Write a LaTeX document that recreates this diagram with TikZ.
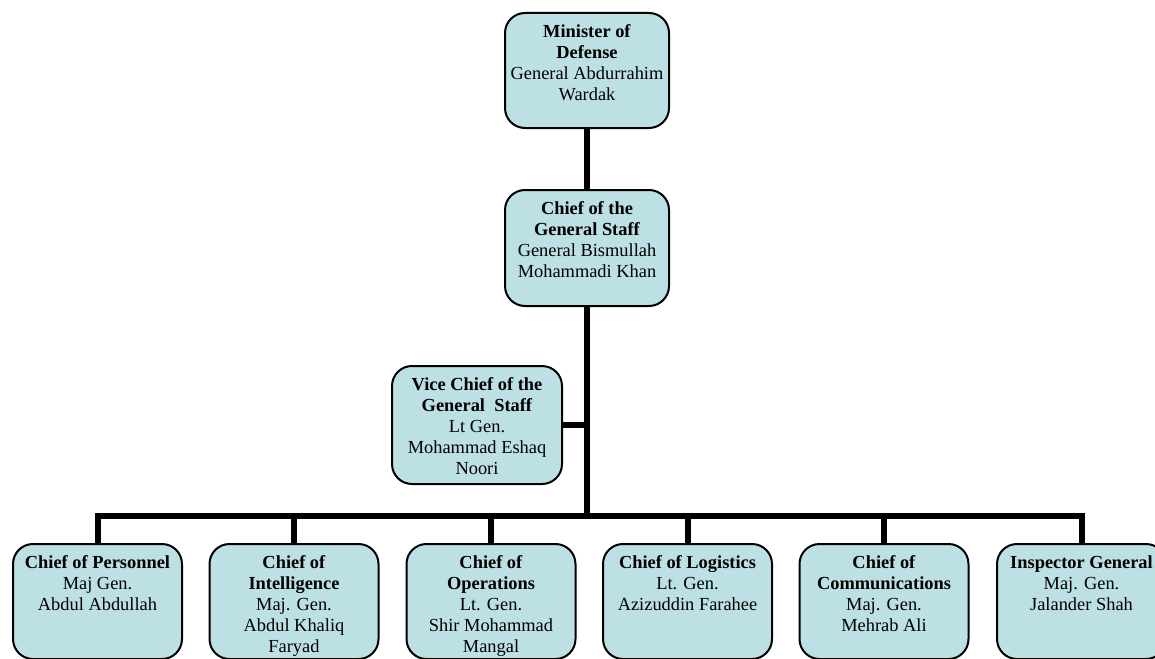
\documentclass[tikz,border=0pt]{standalone}
\usepackage{fontspec}
\setmainfont{Liberation Serif}
\usetikzlibrary{backgrounds}
\definecolor{boxfill}{RGB}{188,224,228}
\newcommand{\orgtext}[3]{\parbox[c][#2][t]{#1}{\centering\fontsize{18.4pt}{21pt}\selectfont\strut #3}}
\begin{document}
\begin{tikzpicture}[x=1pt,y=-1pt,
  orgbox/.style={draw=black, line width=2pt, fill=boxfill, rounded corners=20pt,
    inner sep=0pt, anchor=north},
  link/.style={draw=black, line width=6pt}]
\useasboundingbox (0,0) rectangle (1155,658);
\clip (0,0) rectangle (1155,658);

\node[orgbox, minimum width=164pt, minimum height=115pt] (min) at (587,12)
  {\orgtext{164pt}{95pt}{\textbf{Minister of}\\\textbf{Defense}\\General Abdurrahim\\Wardak}};
\node[orgbox, minimum width=164pt, minimum height=116pt] (cgs) at (587,189)
  {\orgtext{164pt}{96pt}{\textbf{Chief of the}\\\textbf{General Staff}\\General Bismullah\\Mohammadi Khan}};
\node[orgbox, minimum width=170pt, minimum height=118pt] (vice) at (477,365)
  {\orgtext{170pt}{98pt}{\textbf{Vice Chief of the}\\\textbf{General~~Staff}\\Lt Gen.\\Mohammad Eshaq\\Noori}};

\node[orgbox, minimum width=169pt, minimum height=115pt] (p1) at (97.5,543)
  {\orgtext{169pt}{95pt}{\textbf{Chief of Personnel}\\Maj Gen.\\Abdul Abdullah}};
\node[orgbox, minimum width=169pt, minimum height=115pt] (p2) at (294,543)
  {\orgtext{169pt}{95pt}{\textbf{Chief of}\\\textbf{Intelligence}\\Maj. Gen.\\Abdul Khaliq\\Faryad}};
\node[orgbox, minimum width=169pt, minimum height=115pt] (p3) at (491,543)
  {\orgtext{169pt}{95pt}{\textbf{Chief of}\\\textbf{Operations}\\Lt. Gen.\\Shir Mohammad\\Mangal}};
\node[orgbox, minimum width=169pt, minimum height=115pt] (p4) at (687.5,543)
  {\orgtext{169pt}{95pt}{\textbf{Chief of Logistics}\\Lt. Gen.\\Azizuddin Farahee}};
\node[orgbox, minimum width=169pt, minimum height=115pt] (p5) at (884,543)
  {\orgtext{169pt}{95pt}{\textbf{Chief of}\\\textbf{Communications}\\Maj. Gen.\\Mehrab Ali}};
\node[orgbox, minimum width=169pt, minimum height=115pt] (p6) at (1081.5,543)
  {\orgtext{169pt}{95pt}{\textbf{Inspector General}\\Maj. Gen.\\Jalander Shah}};

\coordinate (foot) at (587,516);

\begin{pgfonlayer}{background}
\draw[link] (min.south) -- (cgs.north);
\draw[link] (cgs.south) -- (foot);
\draw[link] (vice.east) -- (vice.east -| foot);
\draw[link] (p1.north) |- (foot) -| (p6.north);
\draw[link] (p2.north) -- (p2.north |- foot);
\draw[link] (p3.north) -- (p3.north |- foot);
\draw[link] (p4.north) -- (p4.north |- foot);
\draw[link] (p5.north) -- (p5.north |- foot);
\end{pgfonlayer}
\end{tikzpicture}
\end{document}
